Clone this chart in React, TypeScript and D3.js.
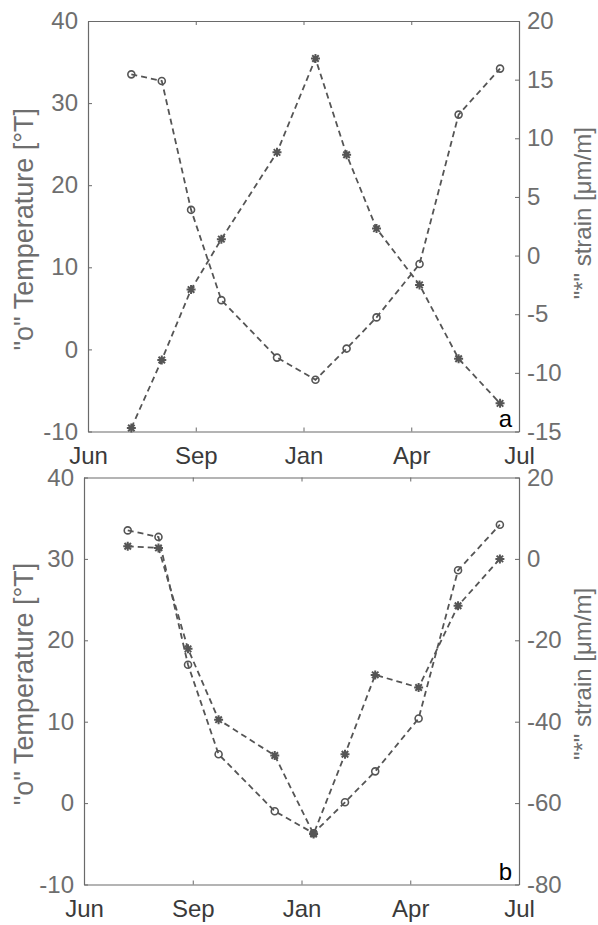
import React, { useEffect, useRef } from 'react';
import * as d3 from 'd3';

// sampling dates (one campaign, Jul 2014 - Jun 2015)
const sampleDates = [
  '2014-07-08', '2014-08-03', '2014-08-28', '2014-09-30', '2014-12-02', '2015-01-11',
  '2015-02-06', '2015-03-03', '2015-04-08', '2015-05-11', '2015-06-15',
];
const temperature = [33.5, 32.7, 17.0, 6.0, -1.0, -3.7, 0.1, 3.9, 10.4, 28.6, 34.2];
const strainA = [-14.7, -8.9, -2.9, 1.4, 8.8, 16.8, 8.6, 2.3, -2.5, -8.8, -12.6];
const strainB = [3.1, 2.7, -22.1, -39.5, -48.3, -67.6, -48.0, -28.5, -31.6, -11.5, 0.0];

const monthTicks = ['2014-06-01', '2014-09-01', '2015-01-01', '2015-04-01', '2015-07-01'];
const monthLabels = ['Jun', 'Sep', 'Jan', 'Apr', 'Jul'];
const tempTicks = [-10, 0, 10, 20, 30, 40];
const strainTicksA = [-15, -10, -5, 0, 5, 10, 15, 20];
const strainTicksB = [-80, -60, -40, -20, 0, 20];

const FONT = '"Liberation Sans", Arial, Helvetica, sans-serif';

const panels = [
  { left: 88, right: 519, top: 21, bottom: 431.5, strain: strainA, strainTicks: strainTicksA, letter: 'a', rightTitleShift: -13 },
  { left: 84, right: 519, top: 477.5, bottom: 884.5, strain: strainB, strainTicks: strainTicksB, letter: 'b', rightTitleShift: -7 },
];

export default function App() {
  const ref = useRef<SVGSVGElement | null>(null);

  useEffect(() => {
    const svg = d3.select(ref.current);
    svg.selectAll('*').remove();
    const parse = d3.timeParse('%Y-%m-%d');
    const dates = sampleDates.map((d) => parse(d) as Date);
    const plain = (d: any) => String(d); // plain hyphen minus, like matlab

    panels.forEach((p) => {
      const g = svg.append('g');
      const step = (p.right - p.left) / (monthTicks.length - 1);
      // MATLAB-style: month ticks equally spaced along the axis
      const x = d3.scaleTime()
        .domain(monthTicks.map((d) => parse(d) as Date))
        .range(monthTicks.map((d, i) => p.left + i * step));
      const yT = d3.scaleLinear().domain([-10, 40]).range([p.bottom, p.top]);
      const yS = d3.scaleLinear()
        .domain([p.strainTicks[0], p.strainTicks[p.strainTicks.length - 1]])
        .range([p.bottom, p.top]);
      const tickDates = monthTicks.map((d) => parse(d) as Date);

      const xb = g.append('g')
        .attr('transform', `translate(0,${p.bottom})`)
        .call(d3.axisBottom(x).tickValues(tickDates).tickFormat((d, i) => monthLabels[i]).tickSizeInner(-4).tickSizeOuter(0).tickPadding(15));
      xb.selectAll('text').attr('fill', '#3a3a3a');

      const xt = g.append('g')
        .attr('transform', `translate(0,${p.top})`)
        .call(d3.axisTop(x).tickValues(tickDates).tickFormat(() => '').tickSizeInner(-4).tickSizeOuter(0));

      const yl = g.append('g')
        .attr('transform', `translate(${p.left},0)`)
        .call(d3.axisLeft(yT).tickValues(tempTicks).tickFormat(plain).tickSizeInner(-4).tickSizeOuter(0).tickPadding(10));
      yl.selectAll('text').attr('fill', '#6e6e6e');

      const yr = g.append('g')
        .attr('transform', `translate(${p.right},0)`)
        .call(d3.axisRight(yS).tickValues(p.strainTicks).tickFormat(plain).tickSizeInner(-4).tickSizeOuter(0).tickPadding(8));
      yr.selectAll('text').attr('fill', '#6e6e6e');

      [xb, xt, yl, yr].forEach((a) => {
        a.attr('font-family', FONT).attr('font-size', 24);
        a.select('.domain').attr('stroke', '#6a6a6a').attr('stroke-width', 1.2);
        a.selectAll('.tick line').attr('stroke', '#6a6a6a');
      });

      const lineT = d3.line<number>().x((d, i) => x(dates[i])).y((d) => yT(d));
      const lineS = d3.line<number>().x((d, i) => x(dates[i])).y((d) => yS(d));

      g.append('path')
        .attr('d', lineT(temperature))
        .attr('fill', 'none')
        .attr('stroke', '#555')
        .attr('stroke-width', 1.8)
        .attr('stroke-dasharray', '6,4');
      g.append('path')
        .attr('d', lineS(p.strain))
        .attr('fill', 'none')
        .attr('stroke', '#555')
        .attr('stroke-width', 1.8)
        .attr('stroke-dasharray', '6,4');

      g.selectAll('.circ')
        .data(temperature)
        .enter().append('circle')
        .attr('cx', (d, i) => x(dates[i]))
        .attr('cy', (d) => yT(d))
        .attr('r', 3.5)
        .attr('fill', 'none')
        .attr('stroke', '#555')
        .attr('stroke-width', 1.6);

      const s = 4.5;
      const d45 = s * 0.72;
      const star = `M${-s},0L${s},0M0,${-s}L0,${s}M${-d45},${-d45}L${d45},${d45}M${-d45},${d45}L${d45},${-d45}`;
      g.selectAll('.star')
        .data(p.strain)
        .enter().append('path')
        .attr('transform', (d, i) => `translate(${x(dates[i])},${yS(d)})`)
        .attr('d', star)
        .attr('stroke', '#555')
        .attr('stroke-width', 2);

      const midY = (p.top + p.bottom) / 2;
      g.append('text')
        .attr('transform', `translate(33,${midY + 3}) rotate(-90)`)
        .attr('text-anchor', 'middle')
        .attr('font-family', FONT)
        .attr('font-size', 27)
        .attr('fill', '#6e6e6e')
        .text('"o" Temperature [°T]');

      g.append('text')
        .attr('transform', `translate(591,${midY + p.rightTitleShift}) rotate(-90)`)
        .attr('text-anchor', 'middle')
        .attr('font-family', FONT)
        .attr('font-size', 24)
        .attr('fill', '#6e6e6e')
        .text('"*" strain [μm/m]');

      g.append('text')
        .attr('x', p.right - 7)
        .attr('y', p.bottom - 5)
        .attr('text-anchor', 'end')
        .attr('font-family', FONT)
        .attr('font-size', 24)
        .attr('fill', '#000')
        .text(p.letter);
    });
  }, []);

  return (
    <svg ref={ref} width={598} height={925} style={{ position: 'absolute', left: 0, top: 0, background: '#fff' }} />
  );
}
